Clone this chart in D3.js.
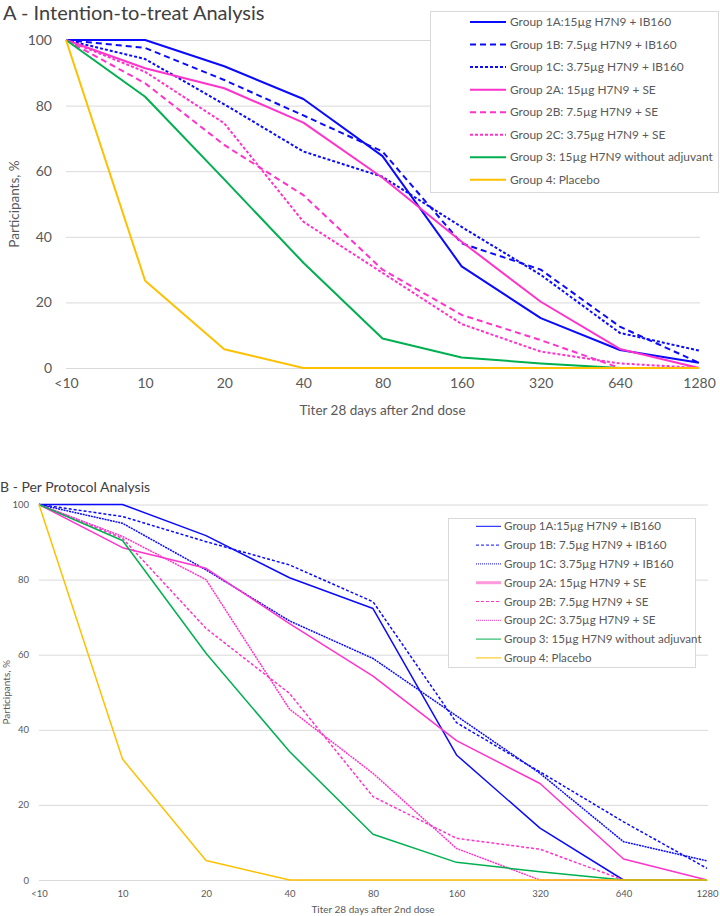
<!DOCTYPE html>
<html><head><meta charset="utf-8">
<script src="https://cdn.jsdelivr.net/npm/d3@7"></script>
<style>
html,body{margin:0;padding:0;background:#fff;}
svg{display:block;font-family:Lato,"Open Sans",sans-serif;}
</style></head>
<body>
<svg id="chart" width="720" height="916"></svg>
<script>
// ---------- data ----------
const categories = ["<10","10","20","40","80","160","320","640","1280"];
const yTicks = [0,20,40,60,80,100];
const groupNames = [
  "Group 1A:15\u00b5g H7N9 + IB160",
  "Group 1B: 7.5\u00b5g H7N9 + IB160",
  "Group 1C: 3.75\u00b5g H7N9 + IB160",
  "Group 2A: 15\u00b5g H7N9 + SE",
  "Group 2B: 7.5\u00b5g H7N9 + SE",
  "Group 2C: 3.75\u00b5g H7N9 + SE",
  "Group 3: 15\u00b5g H7N9 without adjuvant",
  "Group 4: Placebo"
];
const seriesColors = ["#0a0aff","#0a0aff","#0a0aff","#ff33cc","#ff33cc","#ff33cc","#00b050","#ffc000"];

// A - Intention-to-treat
const ittG1A = [100,100,92,82,64.6,31,15.2,5.5,1.6];
const ittG1B = [100,97.6,87.8,77,66,38,30,12.6,1.6];
const ittG1C = [100,94.2,80.4,66,58.3,43,28.4,10.7,5.3];
const ittG2A = [100,91.4,85.3,74.8,58,38.5,20.2,5.8,0];
const ittG2B = [100,86.8,68,52.7,30,16.2,8.5,0,0];
const ittG2C = [100,90.3,74.6,44.6,29,13.4,5,1.4,0];
const ittG3  = [100,82.7,57.5,32.1,9,3.2,1.4,0,0];
const ittG4  = [100,26.6,5.7,0,0,0,0,0,0];

// B - Per protocol
const ppG1A = [100,100,91.7,80.5,72.3,33.3,13.8,0,0];
const ppG1B = [100,96.8,90.1,83.9,74.1,41.9,28.8,15.5,3.1];
const ppG1C = [100,95,82.6,69,59,43.7,28.4,10.2,5.1];
const ppG2A = [100,88.5,83,68.3,54.3,37.1,25.7,5.6,0];
const ppG2B = [100,91,67,49.7,22.2,11.1,8.2,0,0];
const ppG2C = [100,91.5,80,45.5,28.4,8.4,0,0,0];
const ppG3  = [100,90.4,60.4,34.2,12.2,4.7,2.2,0,0];
const ppG4  = [100,32.2,5.2,0,0,0,0,0,0];

const ittSeries = [ittG1A,ittG1B,ittG1C,ittG2A,ittG2B,ittG2C,ittG3,ittG4];
const ppSeries  = [ppG1A,ppG1B,ppG1C,ppG2A,ppG2B,ppG2C,ppG3,ppG4];

const svg = d3.select("#chart");
const grey = "#595959";

function panel(cfg){
  const g = svg.append("g");
  const x = d3.scalePoint().domain(categories).range([cfg.x0,cfg.x1]);
  const y = d3.scaleLinear().domain([0,100]).range([cfg.y0,cfg.y1]);
  // title
  g.append("text").attr("x",cfg.titleX).attr("y",cfg.titleY)
    .attr("font-size",cfg.titleSize).attr("fill","#404040").text(cfg.title);
  // gridlines
  g.append("g").selectAll("line").data(yTicks).join("line")
    .attr("x1",cfg.x0).attr("x2",cfg.x1+1)
    .attr("y1",d=>y(d)+0.5).attr("y2",d=>y(d)+0.5)
    .attr("stroke","#d9d9d9").attr("stroke-width",1);
  // y axis labels
  const ya = d3.axisLeft(y).tickValues(yTicks).tickSize(0).tickPadding(cfg.yPad);
  const yg = g.append("g").attr("transform",`translate(${cfg.x0},0)`).call(ya);
  yg.select(".domain").remove();
  yg.selectAll("text").attr("font-size",cfg.tickSize).attr("fill",grey).attr("font-family","Lato");
  // x axis labels
  const xa = d3.axisBottom(x).tickSize(0).tickPadding(cfg.xPad);
  const xg = g.append("g").attr("transform",`translate(0,${cfg.y0})`).call(xa);
  xg.select(".domain").remove();
  xg.selectAll("text").attr("font-size",cfg.tickSize).attr("fill",grey).attr("font-family","Lato");
  // axis titles
  g.append("text").attr("x",(cfg.x0+cfg.x1)/2).attr("y",cfg.xTitleY)
    .attr("text-anchor","middle").attr("font-size",cfg.axisTitleSize).attr("fill",grey)
    .text("Titer 28 days after 2nd dose");
  g.append("text").attr("transform",`translate(${cfg.yTitleX},${(cfg.y0+cfg.y1)/2}) rotate(-90)`)
    .attr("text-anchor","middle").attr("font-size",cfg.axisTitleSize).attr("fill",grey)
    .text("Participants, %");
  // lines
  const line = d3.line().x((d,i)=>x(categories[i])).y(d=>y(d)).defined(d=>d!=null);
  cfg.series.forEach((s,i)=>{
    g.append("path").datum(s).attr("d",line).attr("fill","none")
      .attr("stroke",seriesColors[i]).attr("stroke-width",cfg.lw)
      .attr("stroke-linejoin","round")
      .attr("stroke-dasharray",cfg.dash[i]);
  });
  // legend
  const L = cfg.legend;
  g.append("rect").attr("x",L.x+0.5).attr("y",L.y+0.5).attr("width",L.w).attr("height",L.h)
    .attr("fill","#fff").attr("stroke","#d9d9d9").attr("stroke-width",1);
  groupNames.forEach((n,i)=>{
    const yy = L.firstY + i*L.step;
    g.append("line").attr("x1",L.lx0).attr("x2",L.lx1).attr("y1",yy).attr("y2",yy)
      .attr("stroke",cfg.legendColors ? cfg.legendColors[i] : seriesColors[i])
      .attr("stroke-width",cfg.legendLw[i]).attr("stroke-dasharray",cfg.legendDash[i]);
    g.append("text").attr("x",L.tx).attr("y",yy).attr("dy","0.35em")
      .attr("font-size",L.fs).attr("fill",grey).text(n);
  });
}

panel({
  title:"A - Intention-to-treat Analysis", titleX:3, titleY:20, titleSize:20,
  x0:66, x1:699, y0:368, y1:40,
  tickSize:14, yPad:14, xPad:10, axisTitleSize:13.5, xTitleY:415, yTitleX:19,
  series:ittSeries, lw:2,
  dash:[null,"6,4","3,2",null,"6,4","3,2",null,null],
  legend:{x:430,y:11,w:288,h:181,firstY:22,step:22.55,lx0:470,lx1:506,tx:510,fs:11.9},
  legendLw:[2,2,2,2,2,2,2,2],
  legendDash:[null,"6,4","3,2",null,"6,4","3,2",null,null]
});

panel({
  title:"B - Per Protocol Analysis", titleX:0, titleY:492, titleSize:14,
  x0:39, x1:707, y0:880, y1:504.5,
  tickSize:9.5, yPad:10, xPad:10, axisTitleSize:10, xTitleY:913, yTitleX:9.5,
  series:ppSeries, lw:1.5,
  dash:[null,"3,2","2,0.8",null,"3,2","2,0.8",null,null],
  legend:{x:448,y:518,w:247,h:149,firstY:526.3,step:18.8,lx0:476,lx1:501,tx:504,fs:11.6},
  legendColors:["#0a0aff","#0a0aff","#0a0aff","#ff99dd","#ff33cc","#ff33cc","#00b050","#ffc000"],
  legendLw:[1,1,1,3,1,1,1,1],
  legendDash:[null,"3,2","1,1",null,"3,2","1,1",null,null]
});
</script>
</body></html>
